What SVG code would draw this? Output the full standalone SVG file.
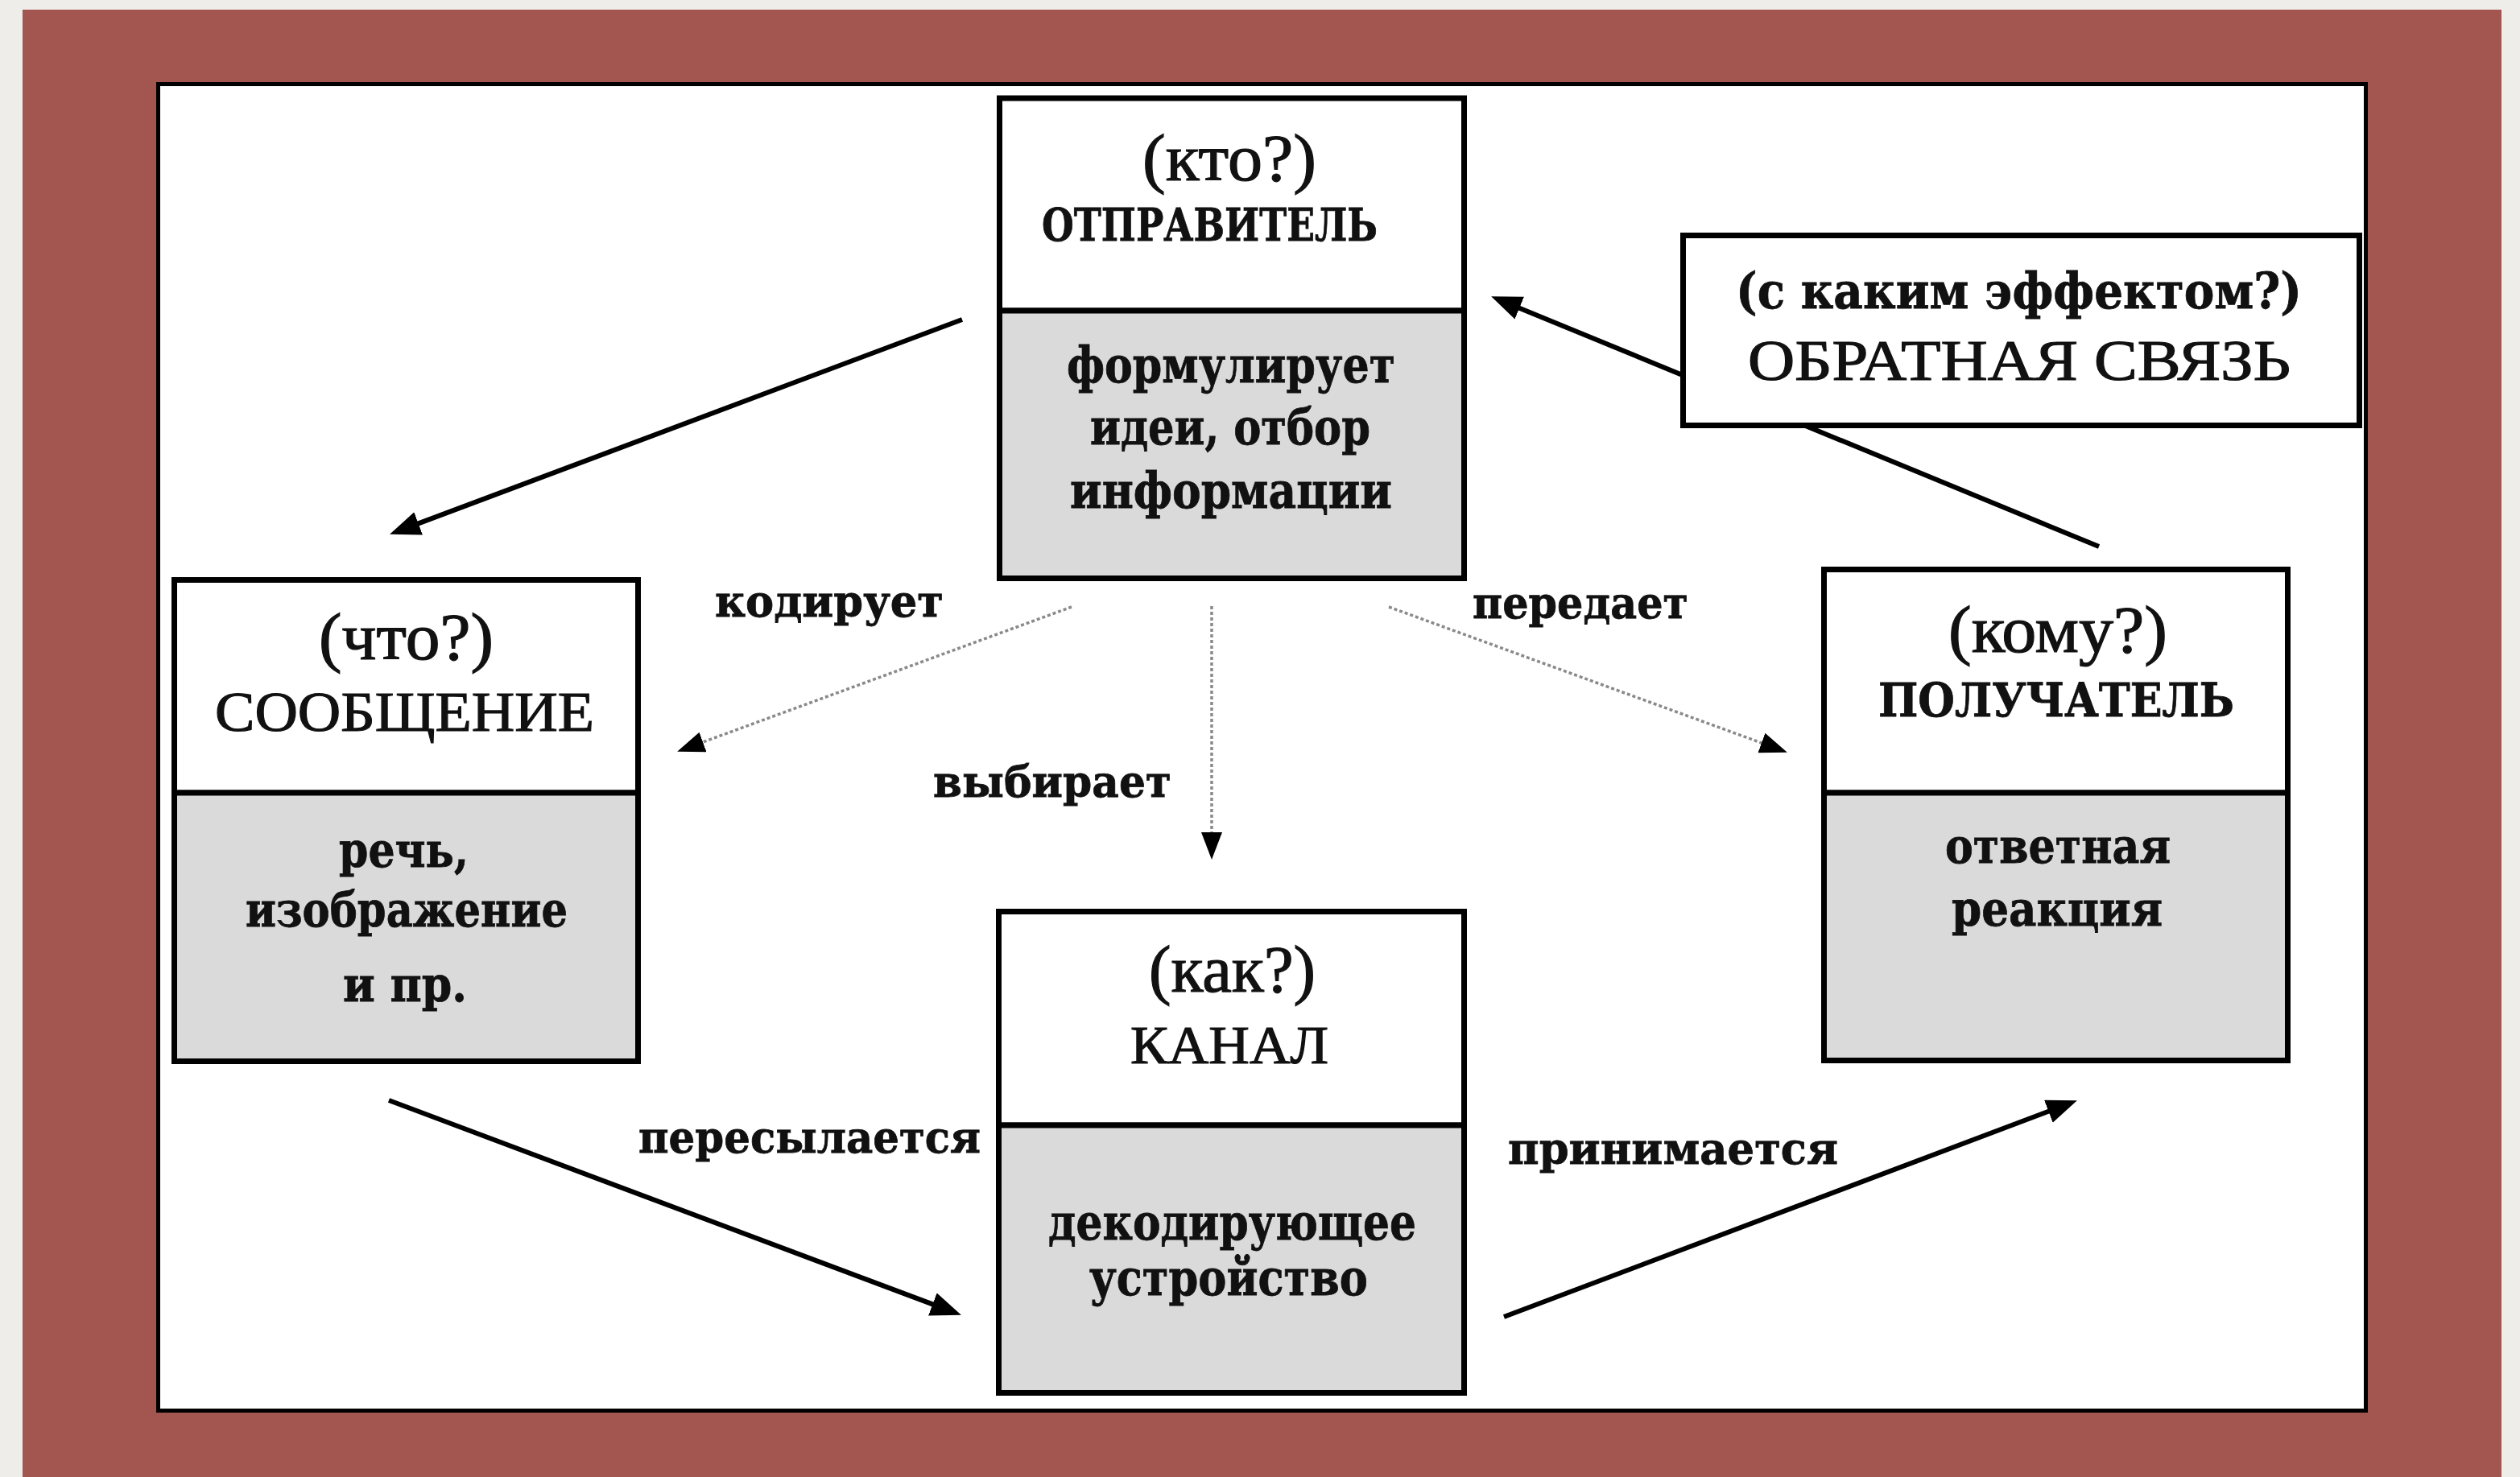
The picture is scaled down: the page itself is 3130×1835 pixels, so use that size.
<svg xmlns="http://www.w3.org/2000/svg" width="3130" height="1835" viewBox="0 0 3130 1835">
<defs>
<marker id="ah" markerUnits="userSpaceOnUse" markerWidth="42" markerHeight="32" refX="10" refY="15" orient="auto"><path d="M0,0 L38,15 L0,30 z" fill="#000"/></marker>
<marker id="ahd" markerUnits="userSpaceOnUse" markerWidth="36" markerHeight="28" refX="12" refY="13" orient="auto"><path d="M0,0 L34,13 L0,26 z" fill="#000"/></marker>
</defs>
<style>
.bx{stroke:#000;stroke-width:7;}
.w{fill:#fff;}
.g{fill:#dadada;}
.solid{stroke:#000;stroke-width:6;fill:none;marker-end:url(#ah);}
.dot{stroke:#8a8a8a;stroke-width:3.5;stroke-dasharray:4 3;fill:none;marker-end:url(#ahd);}
.r{font-family:"Liberation Serif","Times New Roman",serif;fill:#111;stroke:#111;stroke-width:1.2;}
.b{font-family:"DejaVu Serif","Liberation Serif",serif;font-weight:bold;fill:#111;stroke:#111;stroke-width:0.8;}
</style>
<rect x="0" y="0" width="3130" height="1835" fill="#efedea"/>
<rect x="28" y="12" width="3079" height="1823" fill="#a3554f"/>
<rect x="196.5" y="104.5" width="2742" height="1648" fill="#fff" stroke="#000" stroke-width="5"/>

<g id="connectors">
<path class="solid" d="M1195,397 L510.3,653.9"/>
<path class="solid" d="M483,1367 L1167.7,1623.9"/>
<path class="solid" d="M1868,1636 L2553.7,1377.2"/>
<path class="solid" d="M2607,679 L1878,378.9"/>
<path class="dot" d="M1331,754 L861.8,926.1"/>
<path class="dot" d="M1505,753 L1505,1046"/>
<path class="dot" d="M1725,754 L2199.2,927.1"/>
<text class="b" x="888" y="766" font-size="55" textLength="284" lengthAdjust="spacingAndGlyphs">кодирует</text>
<text class="b" x="1159" y="990" font-size="55" textLength="296" lengthAdjust="spacingAndGlyphs">выбирает</text>
<text class="b" x="1829" y="768" font-size="55" textLength="268" lengthAdjust="spacingAndGlyphs">передает</text>
<text class="b" x="793" y="1432" font-size="55" textLength="425" lengthAdjust="spacingAndGlyphs">пересылается</text>
<text class="b" x="1873" y="1446" font-size="55" textLength="410" lengthAdjust="spacingAndGlyphs">принимается</text>
</g>

<g id="sender">
<rect class="bx w" x="1241.5" y="122" width="577" height="264"/>
<rect class="bx g" x="1241.5" y="386" width="577" height="332.5"/>
<text class="r" x="1419" y="224" font-size="82" textLength="216" lengthAdjust="spacingAndGlyphs">(кто?)</text>
<text class="b" x="1294" y="299" font-size="56" textLength="417" lengthAdjust="spacingAndGlyphs">ОТПРАВИТЕЛЬ</text>
<text class="b" x="1325" y="475" font-size="61" textLength="408" lengthAdjust="spacingAndGlyphs">формулирует</text>
<text class="b" x="1354" y="552" font-size="61" textLength="348" lengthAdjust="spacingAndGlyphs">идеи, отбор</text>
<text class="b" x="1329" y="631" font-size="61" textLength="400" lengthAdjust="spacingAndGlyphs">информации</text>
</g>

<g id="message">
<rect class="bx w" x="216.5" y="720.5" width="576" height="264.5"/>
<rect class="bx g" x="216.5" y="985" width="576" height="333.5"/>
<text class="r" x="396" y="819" font-size="82" textLength="217" lengthAdjust="spacingAndGlyphs">(что?)</text>
<text class="r" x="267" y="908" font-size="70" textLength="471" lengthAdjust="spacingAndGlyphs">СООБЩЕНИЕ</text>
<text class="b" x="421" y="1077" font-size="60" textLength="161" lengthAdjust="spacingAndGlyphs">речь,</text>
<text class="b" x="305" y="1151" font-size="60" textLength="400" lengthAdjust="spacingAndGlyphs">изображение</text>
<text class="b" x="426" y="1244" font-size="60" textLength="154" lengthAdjust="spacingAndGlyphs">и пр.</text>
</g>

<g id="channel">
<rect class="bx w" x="1240.5" y="1132.5" width="578" height="265.5"/>
<rect class="bx g" x="1240.5" y="1398" width="578" height="332.5"/>
<text class="r" x="1427" y="1232" font-size="82" textLength="207" lengthAdjust="spacingAndGlyphs">(как?)</text>
<text class="r" x="1404" y="1321" font-size="68" textLength="246" lengthAdjust="spacingAndGlyphs">КАНАЛ</text>
<text class="b" x="1302" y="1540" font-size="61" textLength="457" lengthAdjust="spacingAndGlyphs">декодирующее</text>
<text class="b" x="1353" y="1609" font-size="61" textLength="346" lengthAdjust="spacingAndGlyphs">устройство</text>
</g>

<g id="receiver">
<rect class="bx w" x="2265.5" y="707.5" width="576" height="277.5"/>
<rect class="bx g" x="2265.5" y="985" width="576" height="332.5"/>
<text class="r" x="2420" y="810" font-size="82" textLength="272" lengthAdjust="spacingAndGlyphs">(кому?)</text>
<text class="b" x="2333" y="890" font-size="58" textLength="442" lengthAdjust="spacingAndGlyphs">ПОЛУЧАТЕЛЬ</text>
<text class="b" x="2416" y="1072" font-size="60" textLength="280" lengthAdjust="spacingAndGlyphs">ответная</text>
<text class="b" x="2424" y="1150" font-size="60" textLength="262" lengthAdjust="spacingAndGlyphs">реакция</text>
</g>

<g id="feedback">
<rect class="bx w" x="2090.5" y="292.5" width="840" height="236"/>
<text class="b" x="2156" y="383" font-size="62" textLength="703" lengthAdjust="spacingAndGlyphs">(с каким эффектом?)</text>
<text class="r" x="2171" y="472" font-size="72" textLength="674" lengthAdjust="spacingAndGlyphs">ОБРАТНАЯ СВЯЗЬ</text>
</g>
</svg>
